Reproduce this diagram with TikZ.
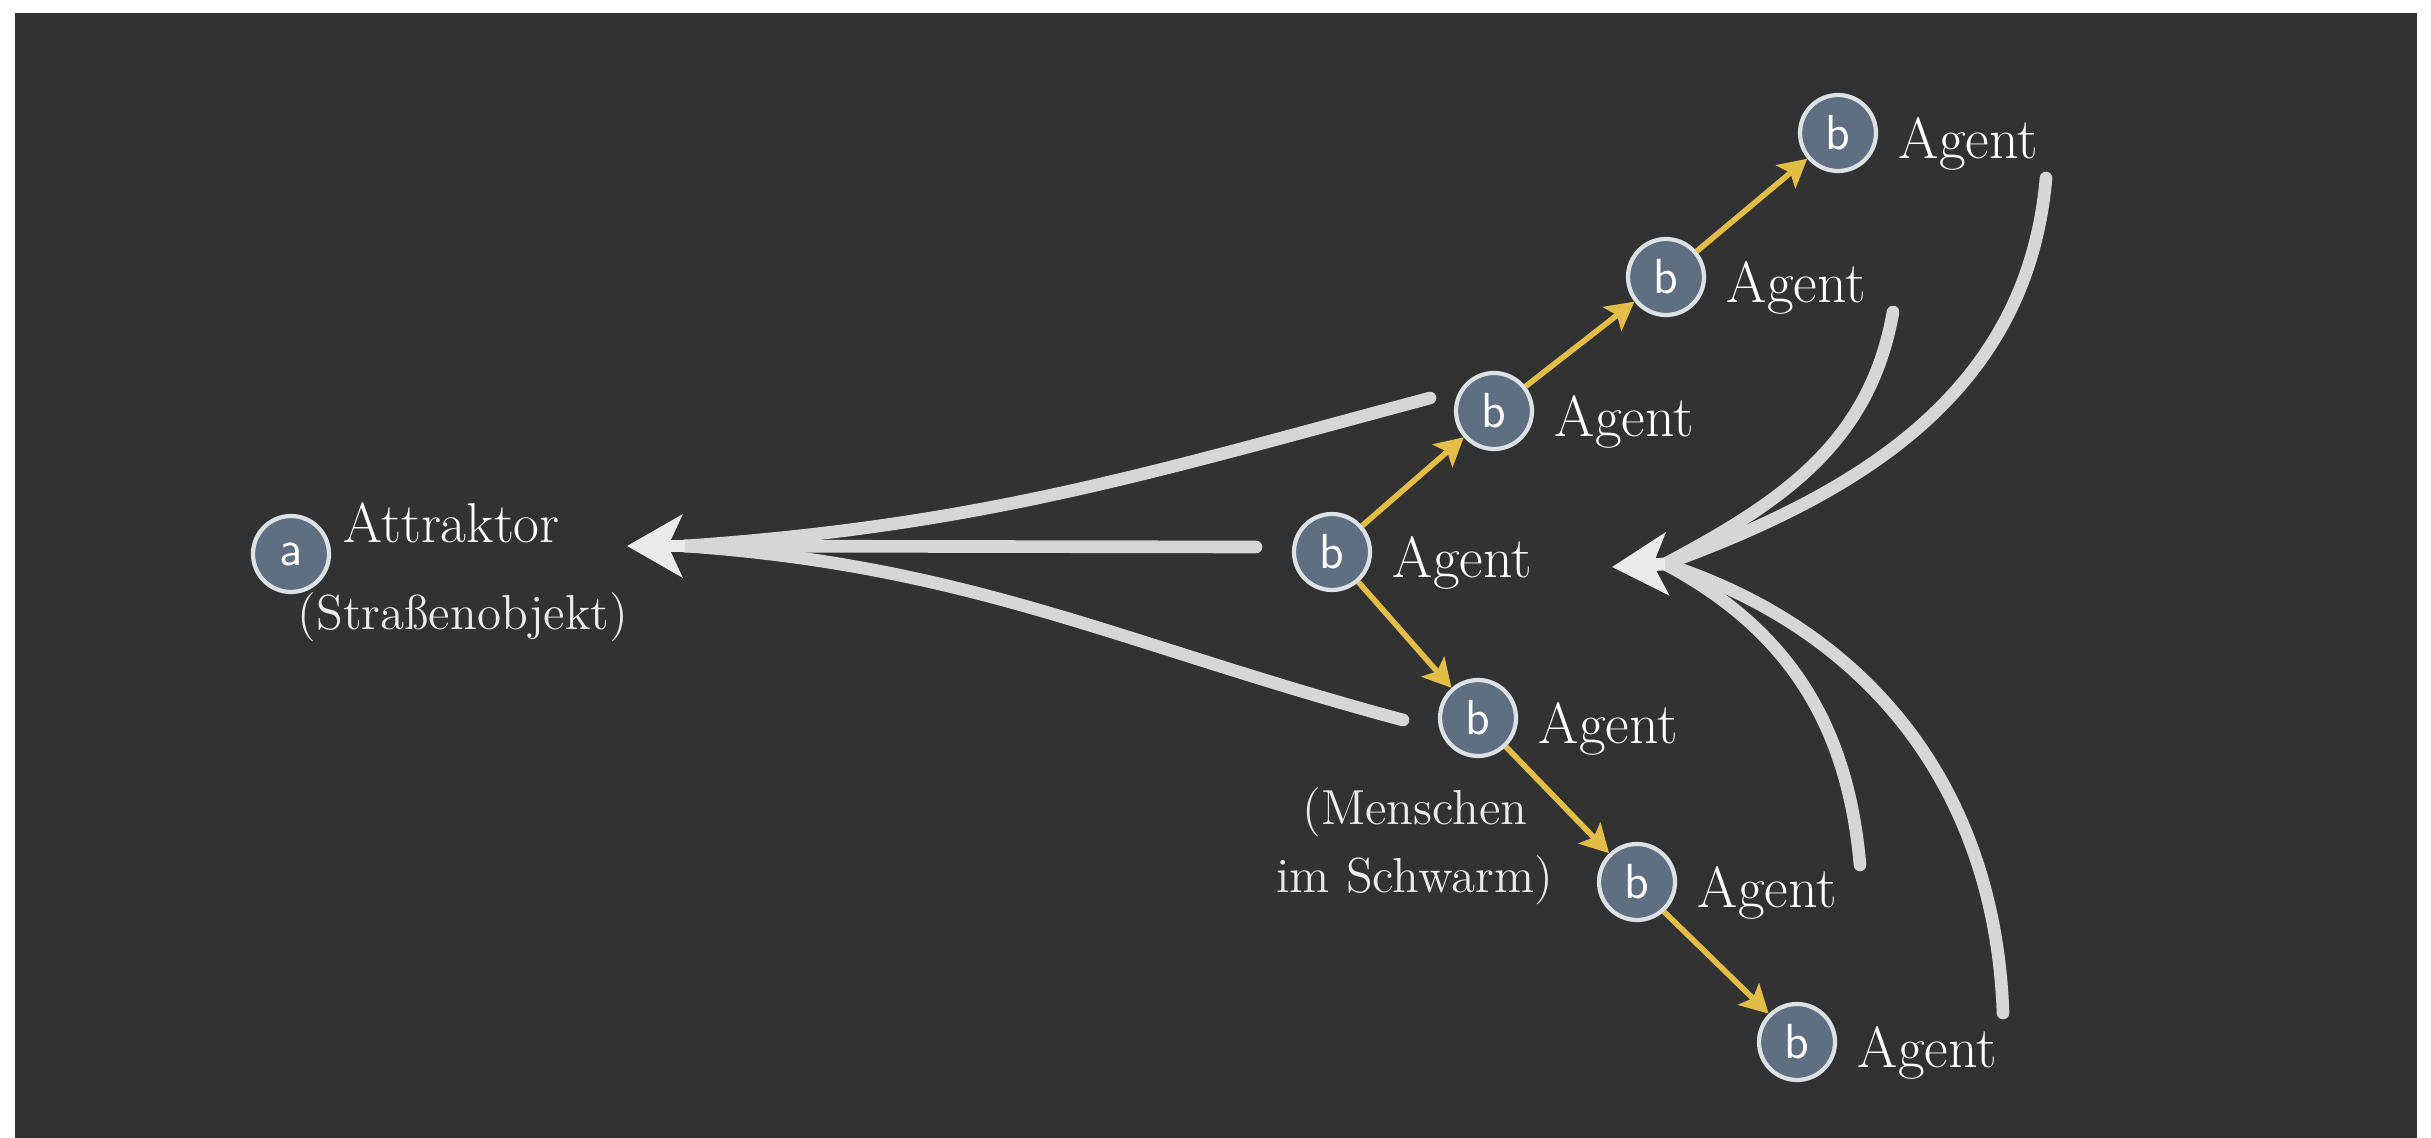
\documentclass[tikz,border=0pt]{standalone}
\usepackage{xcolor}
\usepackage{tikz}
\usetikzlibrary{arrows.meta, positioning}
\definecolor{board}{HTML}{323232}
\definecolor{swarm}{HTML}{E2BE48}
\definecolor{pullgray}{HTML}{D6D6D6}
\definecolor{dot}{HTML}{5F6E80}
\definecolor{ring}{HTML}{DCE1E6}

\begin{document}
\begin{tikzpicture}[
    agent/.style={circle, draw=ring, fill=dot, line width=1.2pt, minimum size=0.76cm, inner sep=0pt, text=white, font=\sffamily\fontsize{14}{14}\selectfont},
    tag/.style={text=white, inner sep=0pt, font=\fontsize{16.5}{19}\selectfont},
    note/.style={text=white!92!black, inner sep=0pt, align=center, font=\fontsize{14}{19.3}\selectfont},
    follow/.style={-{Stealth[length=0.28cm, width=0.3cm, inset=0.06cm]}, draw=swarm, line width=1.6pt},
    pull/.style={draw=pullgray, line width=3.6pt, line cap=round},
    pulltip/.style={-{Stealth[length=0.55cm, width=0.62cm, inset=0.14cm]}, draw=pullgray!50!white, line width=3.6pt},
]

\useasboundingbox (0,0) rectangle (24.31,-11.38);
\fill[white] (0,0) rectangle (24.31,-11.38);
\fill[board] (0.15,-0.13) rectangle (24.17,-11.38);

% attractor lines
\coordinate (p1) at (14.30,-3.98);
\coordinate (p2) at (12.56,-5.47);
\coordinate (p3) at (14.03,-7.20);
\coordinate (leftIn) at (6.85,-5.46);
\coordinate (leftTip) at (6.27,-5.46);

\draw[pull] (p1) to[out=195, in=4] (leftIn);
\draw[pull] (p2) -- (leftIn);
\draw[pull] (p3) to[out=165, in=-4] (leftIn);
\draw[pulltip] (leftIn) -- (leftTip);

% lines back to the swarm
\coordinate (q1) at (20.46,-1.78);
\coordinate (q2) at (18.93,-3.12);
\coordinate (q3) at (18.60,-8.65);
\coordinate (q4) at (20.03,-10.13);
\coordinate (rightIn) at (16.65,-5.64);
\coordinate (rightTip) at (16.12,-5.67);

\draw[pull] (q1) to[out=-95, in=20] (rightIn);
\draw[pull] (q2) to[out=-100, in=28] (rightIn);
\draw[pull] (q3) to[out=95, in=-28] (rightIn);
\draw[pull] (q4) to[out=92, in=-18] (rightIn);
\draw[pulltip] (rightIn) -- (rightTip);

% attractor
\node[agent] (attr) at (2.91,-5.54) {a};
\node[tag, anchor=base west, font=\fontsize{16}{19}\selectfont] (attrL) at (3.43,-5.43) {Attraktor};
\node[note, anchor=base] (attrN) at (4.63,-6.30) {(Straßenobjekt)};

% agents
\node[agent] (ag) at (13.32,-5.52) {b};
\node[agent] (up1) at (14.94,-4.11) {b};
\node[agent] (up2) at (16.66,-2.77) {b};
\node[agent] (up3) at (18.38,-1.33) {b};
\node[agent] (dn1) at (14.78,-7.18) {b};
\node[agent] (dn2) at (16.37,-8.82) {b};
\node[agent] (dn3) at (17.97,-10.42) {b};

\node[tag, right=0.2cm of ag, yshift=-0.11cm] (agL) {Agent};
\node[tag, right=0.2cm of up1, yshift=-0.11cm] (up1L) {Agent};
\node[tag, right=0.2cm of up2, yshift=-0.11cm] (up2L) {Agent};
\node[tag, right=0.2cm of up3, yshift=-0.11cm] (up3L) {Agent};
\node[tag, right=0.2cm of dn1, yshift=-0.11cm] (dn1L) {Agent};
\node[tag, right=0.2cm of dn2, yshift=-0.11cm] (dn2L) {Agent};
\node[tag, right=0.2cm of dn3, yshift=-0.11cm] (dn3L) {Agent};

\node[note, anchor=base] (swarmN) at (14.15,-8.92) {(Menschen\\im Schwarm)};

\draw[follow] (ag) -- (up1);
\draw[follow] (up1) -- (up2);
\draw[follow] (up2) -- (up3);
\draw[follow] (ag) -- (dn1);
\draw[follow] (dn1) -- (dn2);
\draw[follow] (dn2) -- (dn3);

\end{tikzpicture}
\end{document}
